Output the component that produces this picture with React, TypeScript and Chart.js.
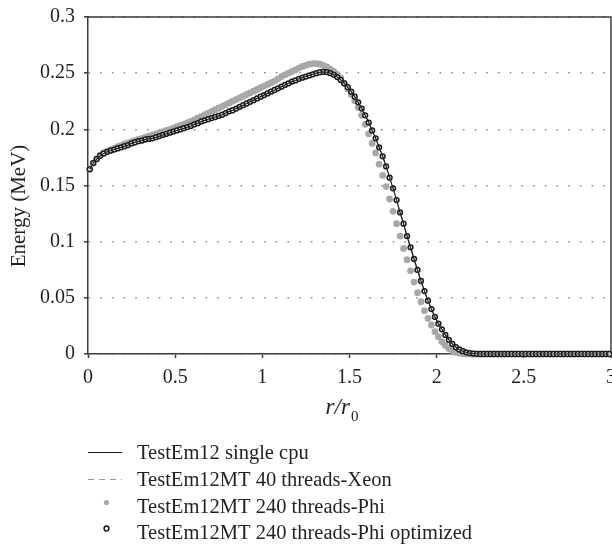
import React, { useEffect, useRef } from 'react';
import { Chart, registerables } from 'chart.js';

Chart.register(...registerables);

// r / r0 bin centres
const rValues = [
  0.01, 0.03, 0.05, 0.07, 0.09, 0.11, 0.13, 0.15, 0.17, 0.19,
  0.21, 0.23, 0.25, 0.27, 0.29, 0.31, 0.33, 0.35, 0.37, 0.39,
  0.41, 0.43, 0.45, 0.47, 0.49, 0.51, 0.53, 0.55, 0.57, 0.59,
  0.61, 0.63, 0.65, 0.67, 0.69, 0.71, 0.73, 0.75, 0.77, 0.79,
  0.81, 0.83, 0.85, 0.87, 0.89, 0.91, 0.93, 0.95, 0.97, 0.99,
  1.01, 1.03, 1.05, 1.07, 1.09, 1.11, 1.13, 1.15, 1.17, 1.19,
  1.21, 1.23, 1.25, 1.27, 1.29, 1.31, 1.33, 1.35, 1.37, 1.39,
  1.41, 1.43, 1.45, 1.47, 1.49, 1.51, 1.53, 1.55, 1.57, 1.59,
  1.61, 1.63, 1.65, 1.67, 1.69, 1.71, 1.73, 1.75, 1.77, 1.79,
  1.81, 1.83, 1.85, 1.87, 1.89, 1.91, 1.93, 1.95, 1.97, 1.99,
  2.01, 2.03, 2.05, 2.07, 2.09, 2.11, 2.13, 2.15, 2.17, 2.19,
  2.21, 2.23, 2.25, 2.27, 2.29, 2.31, 2.33, 2.35, 2.37, 2.39,
  2.41, 2.43, 2.45, 2.47, 2.49, 2.51, 2.53, 2.55, 2.57, 2.59,
  2.61, 2.63, 2.65, 2.67, 2.69, 2.71, 2.73, 2.75, 2.77, 2.79,
  2.81, 2.83, 2.85, 2.87, 2.89, 2.91, 2.93, 2.95, 2.97, 2.99,
];

// TestEm12 single cpu (MeV)
const singleCpu = [
  0.1645, 0.170, 0.1735, 0.1765, 0.1785, 0.180, 0.181, 0.182, 0.183, 0.184,
  0.185, 0.186, 0.1875, 0.1885, 0.1895, 0.190, 0.191, 0.1915, 0.192, 0.193,
  0.194, 0.195, 0.196, 0.197, 0.198, 0.199, 0.200, 0.201, 0.202, 0.203,
  0.2045, 0.2055, 0.207, 0.208, 0.209, 0.210, 0.211, 0.212, 0.213, 0.2145,
  0.216, 0.217, 0.2185, 0.220, 0.2215, 0.223, 0.2245, 0.226, 0.2275, 0.229,
  0.2305, 0.232, 0.2335, 0.235, 0.2365, 0.238, 0.2395, 0.241, 0.2425, 0.2435,
  0.245, 0.246, 0.247, 0.248, 0.249, 0.250, 0.2508, 0.2512, 0.251, 0.250,
  0.2485, 0.2465, 0.244, 0.241, 0.2375, 0.2335, 0.229, 0.224, 0.2185, 0.2125,
  0.206, 0.199, 0.192, 0.184, 0.176, 0.167, 0.157, 0.1475, 0.137, 0.126,
  0.116, 0.105, 0.095, 0.0846, 0.0748, 0.065, 0.056, 0.0475, 0.040, 0.033,
  0.027, 0.022, 0.017, 0.0125, 0.009, 0.006, 0.004, 0.0025, 0.0015, 0.0008,
  0.0004, 0.0002, 0, 0, 0, 0, 0, 0, 0, 0,
  0, 0, 0, 0, 0, 0, 0, 0, 0, 0,
  0, 0, 0, 0, 0, 0, 0, 0, 0, 0,
  0, 0, 0, 0, 0, 0, 0, 0, 0, 0,
];

// TestEm12MT 40 threads-Xeon (coincides with the single cpu curve)
const xeon40Threads = singleCpu;

// TestEm12MT 240 threads-Phi (MeV)
const phi240Threads = [
  0.1645, 0.170, 0.174, 0.177, 0.179, 0.1805, 0.182, 0.183, 0.1845, 0.1855,
  0.187, 0.188, 0.189, 0.190, 0.191, 0.192, 0.193, 0.194, 0.195, 0.196,
  0.197, 0.198, 0.199, 0.200, 0.201, 0.2025, 0.2035, 0.2045, 0.206, 0.207,
  0.2085, 0.210, 0.2115, 0.213, 0.2145, 0.216, 0.2175, 0.219, 0.2205, 0.222,
  0.2235, 0.225, 0.2265, 0.228, 0.2295, 0.231, 0.2325, 0.234, 0.2355, 0.237,
  0.2385, 0.240, 0.2415, 0.243, 0.245, 0.247, 0.2485, 0.250, 0.2515, 0.253,
  0.2545, 0.256, 0.257, 0.258, 0.2585, 0.2585, 0.258, 0.257, 0.2555, 0.2535,
  0.2515, 0.249, 0.2455, 0.241, 0.236, 0.231, 0.2255, 0.2195, 0.2125, 0.2045,
  0.196, 0.1875, 0.179, 0.169, 0.159, 0.149, 0.138, 0.127, 0.116, 0.105,
  0.094, 0.084, 0.074, 0.064, 0.0546, 0.0466, 0.0386, 0.0318, 0.0258, 0.0199,
  0.0154, 0.011, 0.0075, 0.0048, 0.0028, 0.0015, 0.0008, 0.0003, 0, 0,
  0, 0, 0, 0, 0, 0, 0, 0, 0, 0,
  0, 0, 0, 0, 0, 0, 0, 0, 0, 0,
  0, 0, 0, 0, 0, 0, 0, 0, 0, 0,
  0, 0, 0, 0, 0, 0, 0, 0, 0, 0,
];

// TestEm12MT 240 threads-Phi optimized (sits on the single cpu curve)
const phi240Optimized = singleCpu;

const seriesLabels = [
  'TestEm12 single cpu',
  'TestEm12MT 40 threads-Xeon',
  'TestEm12MT 240 threads-Phi',
  'TestEm12MT 240 threads-Phi optimized',
];

const xTickLabels = ['0', '0.5', '1', '1.5', '2', '2.5', '3'];
const yTickLabels = ['0', '0.05', '0.1', '0.15', '0.2', '0.25', '0.3'];
const xAxisTitle = ['r/r', '0'];
const yAxisTitle = 'Energy (MeV)';

const FONT = '"Liberation Serif", "Times New Roman", serif';
const TEXT = '#231f20';

const toPoints = (ys: number[]) => rValues.map((r, i) => ({ x: r, y: ys[i] }));

const decorPlugin = {
  id: 'decor',
  beforeDatasetsDraw(chart: any) {
    const { ctx, chartArea } = chart;
    ctx.save();
    ctx.strokeStyle = '#3a3a3a';
    ctx.lineWidth = 1.5;
    ctx.beginPath();
    ctx.moveTo(chartArea.left, chartArea.top);
    ctx.lineTo(chartArea.right, chartArea.top);
    ctx.lineTo(chartArea.right, chartArea.bottom);
    ctx.stroke();
    ctx.restore();
  },
  afterDraw(chart: any) {
    const { ctx } = chart;
    ctx.save();
    ctx.fillStyle = TEXT;

    // y axis title
    ctx.save();
    ctx.translate(25, 206);
    ctx.rotate(-Math.PI / 2);
    ctx.font = `21px ${FONT}`;
    ctx.textAlign = 'center';
    ctx.textBaseline = 'alphabetic';
    ctx.fillText(yAxisTitle, 0, 0);
    ctx.restore();

    // x axis title r/r0
    ctx.textAlign = 'left';
    ctx.textBaseline = 'alphabetic';
    ctx.font = `italic 23px ${FONT}`;
    const w1 = ctx.measureText(xAxisTitle[0]).width;
    ctx.font = `15px ${FONT}`;
    const w2 = ctx.measureText(xAxisTitle[1]).width;
    const startX = 342 - (w1 + w2 + 1) / 2;
    ctx.font = `italic 23px ${FONT}`;
    ctx.fillText(xAxisTitle[0], startX, 414);
    ctx.font = `15px ${FONT}`;
    ctx.fillText(xAxisTitle[1], startX + w1 + 1, 421);

    // legend
    const baselines = [459, 486, 513, 539];
    const symX0 = 88;
    const symX1 = 122;
    const symXc = 106.5;
    chart.data.datasets.forEach((ds: any, i: number) => {
      const b = baselines[i];
      ctx.save();
      if (ds.showLine) {
        ctx.strokeStyle = ds.borderColor;
        ctx.lineWidth = ds.borderWidth;
        ctx.setLineDash(ds.borderDash || []);
        ctx.beginPath();
        ctx.moveTo(symX0, b - 6.5);
        ctx.lineTo(symX1, b - 6.5);
        ctx.stroke();
      } else {
        ctx.beginPath();
        ctx.arc(symXc, b - 10.5, Math.min(ds.pointRadius, 2.6), 0, Math.PI * 2);
        ctx.fillStyle = ds.pointBackgroundColor;
        ctx.fill();
        if (ds.pointBorderWidth > 0) {
          ctx.lineWidth = ds.pointBorderWidth;
          ctx.strokeStyle = ds.pointBorderColor;
          ctx.stroke();
        }
      }
      ctx.restore();
      ctx.fillStyle = TEXT;
      ctx.font = `20.5px ${FONT}`;
      ctx.textAlign = 'left';
      ctx.textBaseline = 'alphabetic';
      ctx.fillText(ds.label, 137, b);
    });
    ctx.restore();
  },
};

export default function App() {
  const canvasRef = useRef<HTMLCanvasElement | null>(null);

  useEffect(() => {
    if (!canvasRef.current) return;
    const chart = new Chart(canvasRef.current, {
      type: 'scatter',
      data: {
        datasets: [
          {
            label: seriesLabels[0],
            data: toPoints(singleCpu),
            showLine: true,
            borderColor: '#1a1a1a',
            borderWidth: 1.2,
            pointRadius: 0,
            pointHoverRadius: 0,
            order: 0,
            clip: false,
          },
          {
            label: seriesLabels[1],
            data: toPoints(xeon40Threads),
            showLine: true,
            borderColor: '#9a9a9a',
            borderWidth: 1.2,
            borderDash: [6, 5],
            pointRadius: 0,
            pointHoverRadius: 0,
            order: 1,
            clip: false,
          },
          {
            label: seriesLabels[2],
            data: toPoints(phi240Threads),
            showLine: false,
            pointRadius: 3.4,
            pointBackgroundColor: '#a8a8a8',
            pointBorderColor: '#a8a8a8',
            pointBorderWidth: 0,
            order: 3,
            clip: false,
          },
          {
            label: seriesLabels[3],
            data: toPoints(phi240Optimized),
            showLine: false,
            pointRadius: 2.4,
            pointBackgroundColor: '#ffffff',
            pointBorderColor: '#1a1a1a',
            pointBorderWidth: 1.5,
            order: 2,
            clip: false,
          },
        ] as any,
      },
      options: {
        animation: false,
        responsive: false,
        events: [],
        layout: { autoPadding: false, padding: { top: 17, right: 1, bottom: 156, left: 0 } },
        plugins: {
          legend: { display: false },
          tooltip: { enabled: false },
          title: { display: false },
        },
        scales: {
          x: {
            type: 'linear',
            min: 0,
            max: 3,
            ticks: {
              stepSize: 0.5,
              padding: 8,
              color: TEXT,
              font: { family: FONT, size: 20 },
              maxRotation: 0,
              autoSkip: false,
              callback: (_v: any, i: number) => xTickLabels[i],
            },
            grid: {
              display: true,
              drawOnChartArea: false,
              drawTicks: true,
              tickLength: 4,
              tickColor: '#3a3a3a',
              tickWidth: 1.5,
            },
            border: { display: true, color: '#3a3a3a', width: 1.5 },
            afterFit: (s: any) => {
              s.height = 34;
              s.paddingLeft = 0;
              s.paddingRight = 0;
            },
          },
          y: {
            type: 'linear',
            min: 0,
            max: 0.3,
            ticks: {
              stepSize: 0.05,
              padding: 9,
              color: TEXT,
              font: { family: FONT, size: 20 },
              callback: (_v: any, i: number) => yTickLabels[i],
            },
            grid: {
              display: true,
              drawOnChartArea: true,
              drawTicks: true,
              tickLength: 4,
              color: '#8a8a8a',
              lineWidth: 1.6,
              tickColor: '#3a3a3a',
              tickWidth: 1.5,
            },
            border: { display: true, color: '#3a3a3a', width: 1.5, dash: [1.6, 10.1] },
            afterFit: (s: any) => {
              s.width = 88;
              s.paddingTop = 0;
              s.paddingBottom = 0;
            },
          },
        },
      } as any,
      plugins: [decorPlugin],
    });
    return () => chart.destroy();
  }, []);

  return (
    <div style={{ position: 'absolute', left: 0, top: 0, width: 612, height: 544, overflow: 'hidden', background: '#fff' }}>
      <canvas ref={canvasRef} width={612} height={544} style={{ display: 'block' }} />
    </div>
  );
}
